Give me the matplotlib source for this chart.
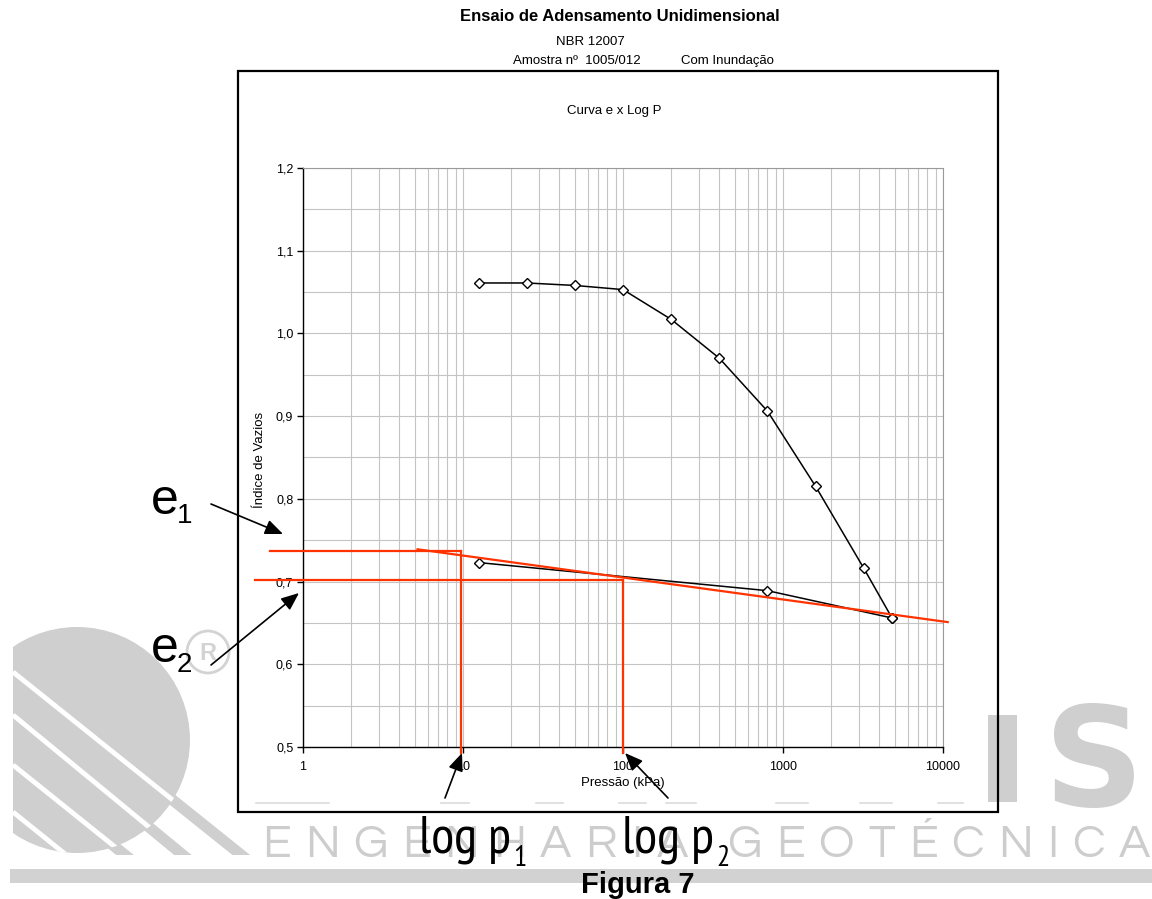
import matplotlib
matplotlib.use("Agg")
import matplotlib.pyplot as plt
import numpy as np
from matplotlib.patches import Rectangle, Circle

plt.rcParams['font.family'] = ['Liberation Sans', 'DejaVu Sans']

# Ensaio de adensamento - curva e x log P (carregamento e descarregamento)
pressao_carga = [12.5, 25, 50, 100, 200, 400, 800, 1600, 3200, 4800]
e_carga = [1.061, 1.061, 1.058, 1.053, 1.017, 0.970, 0.906, 0.815, 0.716, 0.656]
pressao_descarga = [4800, 800, 12.5]
e_descarga = [0.656, 0.689, 0.723]

# construcao em vermelho (reta de descarregamento, e1/e2, p1/p2)
e1, e2 = 0.737, 0.702
p1, p2 = 9.7, 100
reta_p = [5.2, 10700]
reta_e = [0.739, 0.651]

y_ticks = [0.5, 0.6, 0.7, 0.8, 0.9, 1.0, 1.1, 1.2]
y_labels = ['0,5', '0,6', '0,7', '0,8', '0,9', '1,0', '1,1', '1,2']
x_ticks = [1, 10, 100, 1000, 10000]
x_labels = ['1', '10', '100', '1000', '10000']

W, H = 1152, 899
fig = plt.figure(figsize=(W / 100, H / 100), dpi=100)
fig.patch.set_facecolor('white')

# fundo: marca d'agua do logo, em pixels
bg = fig.add_axes([0, 0, 1, 1], zorder=0)
bg.set_xlim(0, W)
bg.set_ylim(H, 0)
bg.axis('off')
cinza = '#cfcfcf'
clip = Rectangle((13, 0), W, 855, transform=bg.transData, visible=False)
bg.add_patch(clip)

faixas = [((13, 672), (260, 870)), ((13, 715), (195, 865)), ((13, 765), (140, 867)), ((13, 812), (80, 866))]
for (xa, ya), (xb, yb) in faixas[:3]:
    ln, = bg.plot([xa, xb], [ya, yb], color=cinza, lw=8, solid_capstyle='butt')
    ln.set_clip_path(clip)
circ = Circle((77, 740), 113, color=cinza, lw=0)
bg.add_patch(circ)
circ.set_clip_path(clip)
for (xa, ya), (xb, yb) in faixas:
    ln, = bg.plot([xa, xb], [ya, yb], color='white', lw=3.5, solid_capstyle='butt')
    ln.set_clip_path(circ)

# simbolo registrado
bg.add_patch(Circle((208, 652), 21, fill=False, ec='#d3d3d3', lw=2))
bg.text(208, 653, 'R', color='#d3d3d3', fontsize=17, fontweight='bold', ha='center', va='center')

# "IS"
bg.add_patch(Rectangle((988, 715), 29, 87, color=cinza, lw=0))
bg.text(1044, 806, 'S', color=cinza, fontsize=100, fontweight='bold', family='DejaVu Sans', va='baseline')

# faixa cinza inferior
bg.add_patch(Rectangle((10, 869), W - 10, 14, color='#d2d2d2', lw=0))

# tracejado cinza dentro do quadro
for xa, xb in [(256, 329), (441, 469), (536, 563), (619, 646), (666, 696), (776, 808), (860, 892), (938, 963)]:
    bg.plot([xa, xb], [803, 803], color='#dcdcdc', lw=1.2)

# ENGENHARIA GEOTÉCNICA com espacamento entre letras
fig.canvas.draw()
rend = fig.canvas.get_renderer()
palavra = 'ENGENHARIA GEOTÉCNICA'
letras = []
larg = []
for ch in palavra:
    t = bg.text(0, 857, ch, color='#cdcdcd', fontsize=34, family=['Questrial', 'Liberation Sans'],
                va='baseline', ha='left')
    letras.append(t)
    if ch == ' ':
        larg.append(34 * 0.25 * 100 / 72)
    else:
        larg.append(t.get_window_extent(rend).width)
x0, x1 = 262, 1150
gap = (x1 - x0 - sum(larg)) / (len(palavra) - 1)
xx = x0
for t, w in zip(letras, larg):
    t.set_x(xx)
    xx += w + gap

# grafico principal
ax = fig.add_axes([303 / W, 1 - 747 / H, 640 / W, 579 / H], zorder=2)
ax.set_xscale('log')
ax.set_xlim(1, 10000)
ax.set_ylim(0.5, 1.2)
ax.set_yticks(y_ticks)
ax.set_yticklabels(y_labels)
ax.set_yticks(np.arange(0.55, 1.2, 0.1), minor=True)
ax.set_xticks(x_ticks)
ax.set_xticklabels(x_labels)
ax.grid(which='both', color='#c4c4c4', lw=0.8)
ax.set_axisbelow(True)
ax.tick_params(which='major', length=4, width=1, labelsize=9, direction='out', pad=3)
ax.tick_params(axis='x', pad=6)
ax.tick_params(which='minor', length=0)
for s in ['top', 'right']:
    ax.spines[s].set_color('#9a9a9a')
for s in ['left', 'bottom']:
    ax.spines[s].set_color('black')
    ax.spines[s].set_linewidth(1)

ax.plot(pressao_carga, e_carga, color='black', lw=1.1, marker='D', ms=5.5,
        mfc='white', mec='black', mew=1, zorder=4)
ax.plot(pressao_descarga, e_descarga, color='black', lw=1.1, marker='D', ms=5.5,
        mfc='white', mec='black', mew=1, zorder=4)

vermelho = '#ff3300'
ax.plot(reta_p, reta_e, color=vermelho, lw=1.6, clip_on=False, zorder=5)
ax.plot([0.62, p1], [e1, e1], color=vermelho, lw=1.6, clip_on=False, zorder=5)
ax.plot([0.5, p2], [e2, e2], color=vermelho, lw=1.6, clip_on=False, zorder=5)
ax.plot([p1, p1], [e1, 0.493], color=vermelho, lw=1.6, clip_on=False, zorder=5)
ax.plot([p2, p2], [e2, 0.493], color=vermelho, lw=1.6, clip_on=False, zorder=5)

# camada de cima: textos, quadro e setas
ov = fig.add_axes([0, 0, 1, 1], zorder=3)
ov.set_xlim(0, W)
ov.set_ylim(H, 0)
ov.axis('off')
ov.patch.set_alpha(0)

ov.add_patch(Rectangle((238, 71), 760, 741, fill=False, ec='black', lw=1.6))

ov.text(620, 21, 'Ensaio de Adensamento Unidimensional', fontsize=12, fontweight='bold',
        ha='center', va='baseline')
ov.text(590, 45, 'NBR 12007', fontsize=9.5, ha='center', va='baseline')
ov.text(513, 64, 'Amostra nº  1005/012', fontsize=9.5, ha='left', va='baseline')
ov.text(681, 64, 'Com Inundação', fontsize=9.5, ha='left', va='baseline')
ov.text(614, 114, 'Curva e x Log P', fontsize=9.5, ha='center', va='baseline')
ov.text(260, 460, 'Índice de Vazios', fontsize=9.5, rotation=90, ha='center', va='center')
ov.text(623, 783, 'Pressão (kPa)', fontsize=9.5, ha='center', va='center')

# e1, e2
ov.text(151, 514, 'e', fontsize=36, va='baseline')
ov.text(177, 523, '1', fontsize=20, va='baseline')
ov.text(151, 662, 'e', fontsize=36, va='baseline')
ov.text(177, 672, '2', fontsize=20, va='baseline')

# log p1, log p2 (fonte estreita)
estreita = ['Liberation Sans Narrow', 'PT Sans Narrow', 'Archivo Narrow', 'Liberation Sans']
for x_log, sub in [(419, '1'), (622, '2')]:
    t = ov.text(x_log, 852, 'log p', fontsize=38, family=estreita, va='baseline')
    fig.canvas.draw()
    bb = t.get_window_extent(fig.canvas.get_renderer())
    ov.text(bb.x1 + 2, 866, sub, fontsize=21, family=estreita, va='baseline')

seta = dict(arrowstyle='-|>,head_length=0.6,head_width=0.25', color='black', lw=1.2,
            mutation_scale=18, shrinkA=0, shrinkB=0)
ov.annotate('', xy=(283, 534), xytext=(211, 504), arrowprops=seta)
ov.annotate('', xy=(299, 593), xytext=(211, 665), arrowprops=seta)
ov.annotate('', xy=(462, 753), xytext=(445, 798), arrowprops=seta)
ov.annotate('', xy=(625, 753), xytext=(668, 798), arrowprops=seta)

ov.text(638, 893, 'Figura 7', fontsize=21, fontweight='bold', ha='center', va='baseline')

fig.savefig('out.png', dpi=100, facecolor='white')
